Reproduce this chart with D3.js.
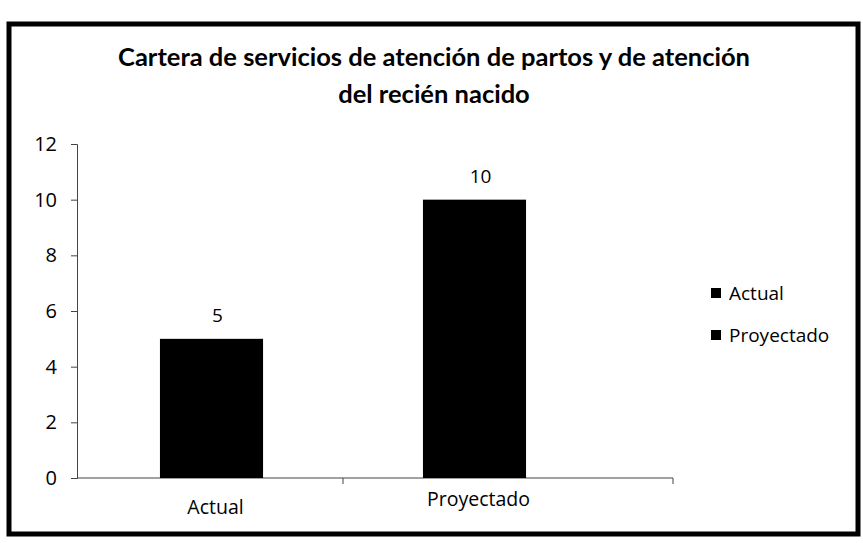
<!DOCTYPE html>
<html>
<head>
<meta charset="utf-8">
<script src="https://cdn.jsdelivr.net/npm/d3@7"></script>
<style>
  body { margin: 0; background: #fff; }
  svg text { font-family: "Open Sans", "Noto Sans", sans-serif; fill: #000; }
</style>
</head>
<body>
<script>
// chart data
var categories = ["Actual", "Proyectado"];
var values = [5, 10];
var yTicks = [0, 2, 4, 6, 8, 10, 12];
var titleLines = ["Cartera de servicios de atención de partos y de atención", "del recién nacido"];

var owidth = 863, oheight = 543;
var svg = d3.select("body").append("svg")
    .attr("width", owidth)
    .attr("height", oheight);

// scanned frame
svg.append("rect")
    .attr("x", 9).attr("y", 24)
    .attr("width", 849).attr("height", 510)
    .attr("fill", "none")
    .attr("stroke", "#000")
    .attr("stroke-width", 5);

var margin = {top: 144, left: 77, bottom: 478};

var xScale = d3.scaleBand()
    .domain(categories)
    .range([80, 606])
    .paddingInner(0.608)
    .paddingOuter(0.304);

var yScale = d3.scaleLinear()
    .domain([0, 12])
    .range([478, 144]);

// title
svg.append("g").selectAll("text")
    .data(titleLines)
    .enter().append("text")
    .attr("x", 434)
    .attr("y", function(d, i) { return 66 + i * 37; })
    .attr("text-anchor", "middle")
    .style("font-family", "Lato, sans-serif")
    .style("font-size", "25.5px")
    .style("font-weight", "bold")
    .text(function(d) { return d; });

// y axis
var yAxis = svg.append("g")
    .attr("transform", "translate(" + margin.left + ",0)")
    .call(d3.axisLeft(yScale).tickValues(yTicks).tickSize(6).tickPadding(14).tickSizeOuter(6));
yAxis.selectAll("path, line").attr("stroke", "#444");
yAxis.selectAll("text").style("font-size", "20px").style("font-family", "'Open Sans', sans-serif");

// x axis line, extends past the bands
var xAxis = svg.append("g");
xAxis.append("line")
    .attr("x1", margin.left).attr("x2", 673)
    .attr("y1", yScale(0)).attr("y2", yScale(0))
    .attr("stroke", "#444");
var bounds = [xScale.range()[0] + xScale.step() * xScale.paddingOuter() + xScale.bandwidth() + xScale.step() * xScale.paddingInner() / 2, 673];
xAxis.selectAll(".tk")
    .data(bounds)
    .enter().append("line")
    .attr("class", "tk")
    .attr("x1", function(d) { return d; }).attr("x2", function(d) { return d; })
    .attr("y1", yScale(0)).attr("y2", yScale(0) + 6)
    .attr("stroke", "#444");

// category labels
svg.append("g").selectAll("text")
    .data(categories)
    .enter().append("text")
    .attr("x", function(d) { return xScale(d) + xScale.bandwidth() / 2 + 4; })
    .attr("y", function(d, i) { return 514 - i * 8; })
    .attr("text-anchor", "middle")
    .style("font-size", "19.5px")
    .text(function(d) { return d; });

// bars
svg.append("g").selectAll("rect")
    .data(values)
    .enter().append("rect")
    .attr("x", function(d, i) { return xScale(categories[i]); })
    .attr("y", function(d) { return yScale(d); })
    .attr("width", xScale.bandwidth())
    .attr("height", function(d) { return yScale(0) - yScale(d); })
    .attr("fill", "#000");

// value labels
svg.append("g").selectAll("text")
    .data(values)
    .enter().append("text")
    .attr("x", function(d, i) { return xScale(categories[i]) + xScale.bandwidth() / 2 + 6; })
    .attr("y", function(d) { return yScale(d) - 17; })
    .attr("text-anchor", "middle")
    .style("font-size", "19px")
    .text(function(d) { return d; });

// legend
var legend = svg.append("g").selectAll("g")
    .data(categories)
    .enter().append("g")
    .attr("transform", function(d, i) { return "translate(711," + (293 + i * 42) + ")"; });
legend.append("rect")
    .attr("x", 0).attr("y", -5)
    .attr("width", 10).attr("height", 10)
    .attr("fill", "#000");
legend.append("text")
    .attr("x", 18).attr("y", 7)
    .style("font-size", "19px")
    .text(function(d) { return d; });
</script>
</body>
</html>
